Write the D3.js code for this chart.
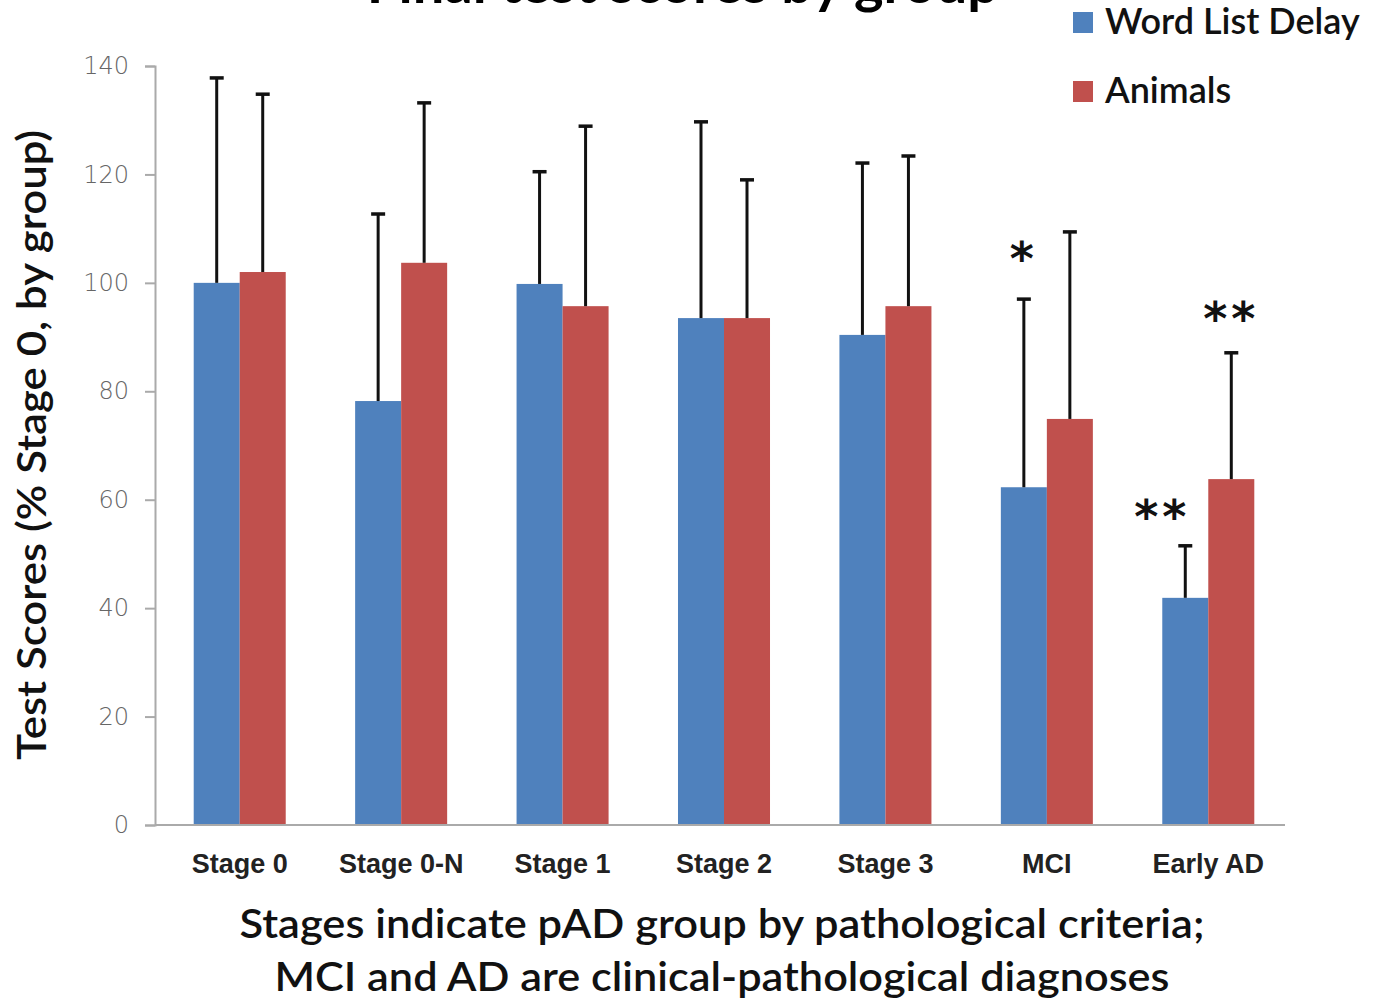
<!DOCTYPE html>
<html>
<head>
<meta charset="UTF-8">
<title>Final test scores by group</title>
<script src="https://d3js.org/d3.v7.min.js"></script>
<style>
  body { margin: 0; background: #fff; }
  svg { display: block; font-family: Lato, "Open Sans", sans-serif; }
  .ytick text { fill: #666; font-size: 24px; font-family: "DejaVu Sans", sans-serif; font-weight: 300; }
  .xtick text { fill: #222; font-size: 27px; font-weight: 600; }
</style>
</head>
<body>
<svg width="1374" height="1001"></svg>
<script>
// values
var groups = ["Stage 0", "Stage 0-N", "Stage 1", "Stage 2", "Stage 3", "MCI", "Early AD"];
var seriesNames = ["Word List Delay", "Animals"];
var wordList = [100, 78.2, 99.8, 93.5, 90.4, 62.3, 41.9];
var animals = [102, 103.7, 95.7, 93.5, 95.7, 74.9, 63.8];
var wordListErr = [137.8, 112.7, 120.5, 129.7, 122.1, 97, 51.5];
var animalsErr = [134.8, 133.2, 128.9, 119, 123.4, 109.4, 87.1];
var yTicks = [0, 20, 40, 60, 80, 100, 120, 140];
// significance marks: "edge" means centred on the bar's left edge
var stars = [
  {group: "MCI", series: 0, y: 109, text: "*", at: "mid"},
  {group: "Early AD", series: 0, y: 61.5, text: "**", at: "edge"},
  {group: "Early AD", series: 1, y: 98, text: "**", at: "mid"}
];
var colors = ["#4F81BD", "#C0504D"];

var svg = d3.select("svg");
var plotL = 155, plotR = 1285, plotT = 66, plotB = 825;

var x = d3.scaleBand().domain(groups).range([plotL + 4, plotR + 4]).paddingInner(0.43).paddingOuter(0.215);
var xs = d3.scaleBand().domain([0, 1]).range([0, x.bandwidth()]);
var y = d3.scaleLinear().domain([0, 140]).range([plotB, plotT]);

var rows = groups.map(function(g, i) {
  return {group: g, vals: [
    {s: 0, v: wordList[i], e: wordListErr[i]},
    {s: 1, v: animals[i], e: animalsErr[i]}
  ]};
});

// title (cropped by the top edge in the original)
svg.append("text")
  .attr("x", 683).attr("y", 3)
  .attr("text-anchor", "middle")
  .attr("font-size", 56).attr("font-weight", 700)
  .attr("fill", "#000")
  .text("Final test scores by group");

// y axis
var yAxis = svg.append("g")
  .attr("class", "ytick")
  .attr("transform", "translate(" + plotL + ",0)")
  .call(d3.axisLeft(y).tickValues(yTicks).tickSize(10).tickPadding(16));
yAxis.selectAll("line").attr("stroke", "#aaa").attr("stroke-width", 2);
yAxis.select(".domain").attr("stroke", "#aaa").attr("stroke-width", 2);

// bars
var grp = svg.append("g").selectAll("g")
  .data(rows).enter().append("g")
  .attr("transform", function(d) { return "translate(" + x(d.group) + ",0)"; });

grp.selectAll("rect")
  .data(function(d) { return d.vals; }).enter().append("rect")
  .attr("x", function(d) { return xs(d.s); })
  .attr("width", xs.bandwidth())
  .attr("y", function(d) { return y(d.v); })
  .attr("height", function(d) { return y(0) - y(d.v); })
  .attr("fill", function(d) { return colors[d.s]; });

// error bars (upper only)
grp.selectAll("line.err")
  .data(function(d) { return d.vals; }).enter().append("line")
  .attr("class", "err")
  .attr("x1", function(d) { return xs(d.s) + xs.bandwidth() / 2; })
  .attr("x2", function(d) { return xs(d.s) + xs.bandwidth() / 2; })
  .attr("y1", function(d) { return y(d.v); })
  .attr("y2", function(d) { return y(d.e); })
  .attr("stroke", "#111").attr("stroke-width", 3);

grp.selectAll("line.cap")
  .data(function(d) { return d.vals; }).enter().append("line")
  .attr("class", "cap")
  .attr("x1", function(d) { return xs(d.s) + xs.bandwidth() / 2 - 7; })
  .attr("x2", function(d) { return xs(d.s) + xs.bandwidth() / 2 + 7; })
  .attr("y1", function(d) { return y(d.e); })
  .attr("y2", function(d) { return y(d.e); })
  .attr("stroke", "#111").attr("stroke-width", 3.5);

// x axis
var xAxis = svg.append("g")
  .attr("class", "xtick")
  .attr("transform", "translate(0," + plotB + ")")
  .call(d3.axisBottom(x).tickSize(0).tickPadding(29));
xAxis.select(".domain").attr("stroke", "#aaa").attr("stroke-width", 2)
  .attr("d", "M" + plotL + ",0H" + plotR);

// significance stars
svg.append("g").selectAll("text")
  .data(stars).enter().append("text")
  .attr("x", function(d) {
    return x(d.group) + xs(d.series) + (d.at === "edge" ? 0 : xs.bandwidth() / 2);
  })
  .attr("y", function(d) { return y(d.y); })
  .attr("dy", "0.9em")
  .attr("text-anchor", "middle")
  .attr("font-size", 46).attr("font-weight", 700)
  .attr("font-family", "DejaVu Sans, sans-serif")
  .attr("letter-spacing", 4)
  .attr("fill", "#111")
  .text(function(d) { return d.text; });

// legend
var leg = svg.append("g").selectAll("g")
  .data(seriesNames).enter().append("g")
  .attr("transform", function(d, i) { return "translate(1073," + (12 + i * 69) + ")"; });
leg.append("rect").attr("width", 20).attr("height", 21)
  .attr("fill", function(d, i) { return colors[i]; });
leg.append("text").attr("x", 32).attr("y", 22)
  .attr("font-size", 36).attr("font-weight", 600).attr("fill", "#111")
  .text(function(d) { return d; });

// axis titles
svg.append("text")
  .attr("transform", "translate(46,445) rotate(-90)")
  .attr("text-anchor", "middle")
  .attr("font-size", 40).attr("font-weight", 600).attr("fill", "#111")
  .attr("textLength", 630).attr("lengthAdjust", "spacingAndGlyphs")
  .text("Test Scores (% Stage 0, by group)");

svg.append("text")
  .attr("x", 722).attr("y", 938)
  .attr("text-anchor", "middle")
  .attr("font-size", 40).attr("font-weight", 600).attr("fill", "#111")
  .attr("textLength", 965).attr("lengthAdjust", "spacingAndGlyphs")
  .text("Stages indicate pAD group by pathological criteria;");
svg.append("text")
  .attr("x", 722).attr("y", 991)
  .attr("text-anchor", "middle")
  .attr("font-size", 40).attr("font-weight", 600).attr("fill", "#111")
  .attr("textLength", 895).attr("lengthAdjust", "spacingAndGlyphs")
  .text("MCI and AD are clinical-pathological diagnoses");
</script>
</body>
</html>
